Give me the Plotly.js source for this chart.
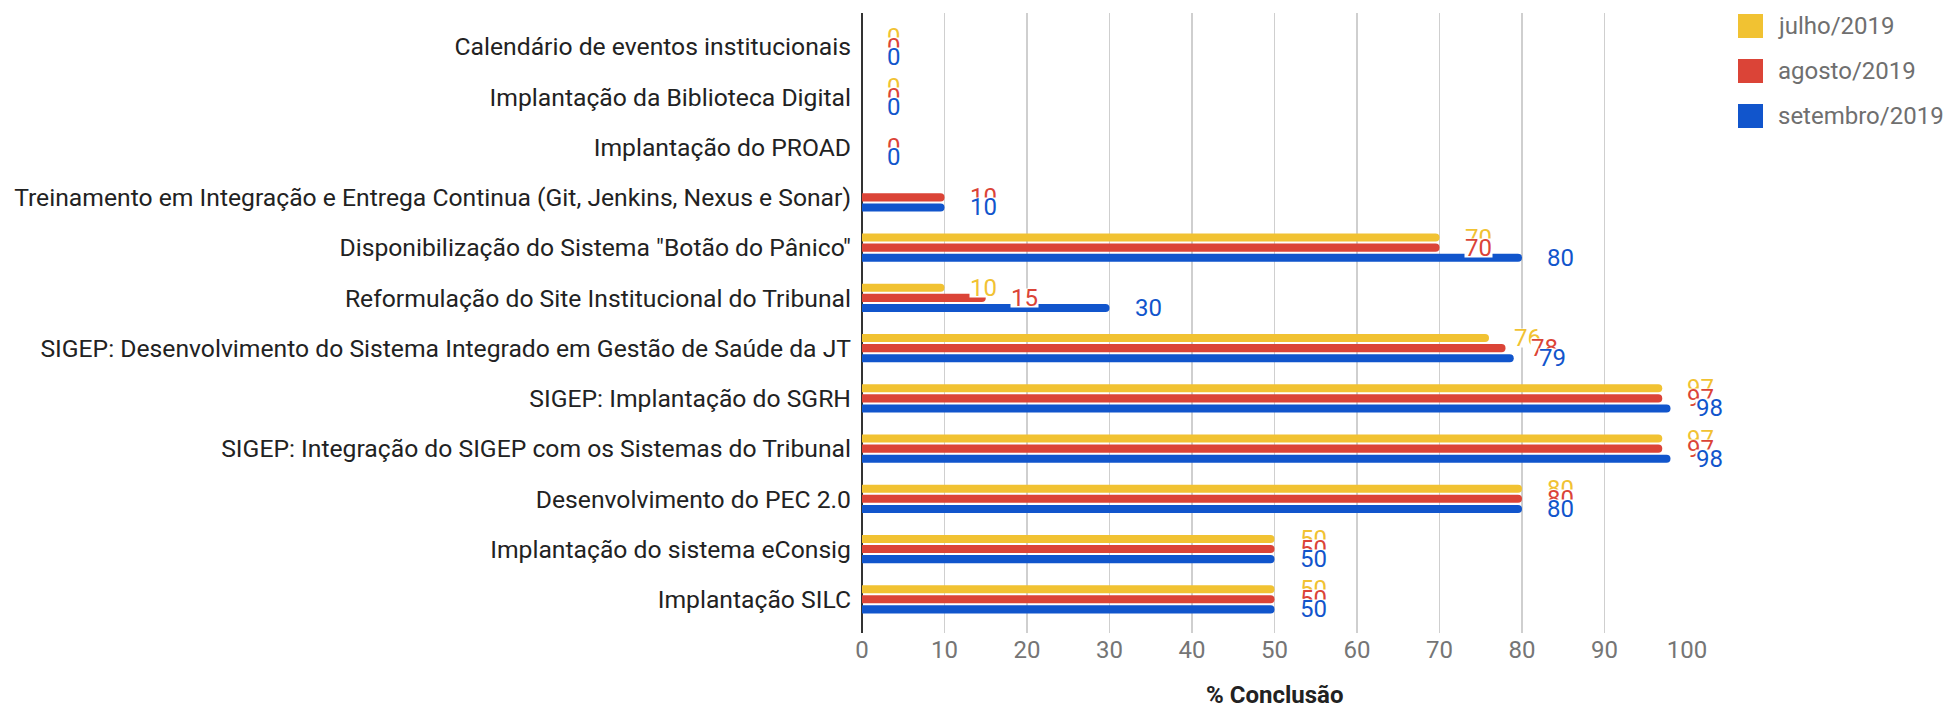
<!DOCTYPE html>
<html>
<head>
<meta charset="utf-8">
<script src="https://cdn.plot.ly/plotly-3.0.1.min.js"></script>
<style>
html,body{margin:0;padding:0;background:#ffffff;}
#chart{width:1952px;height:710px;}
</style>
</head>
<body>
<div id="chart"></div>
<script>
// ---- data ----
const categories = [
  "Calendário de eventos institucionais",
  "Implantação da Biblioteca Digital",
  "Implantação do PROAD",
  "Treinamento em Integração e Entrega Continua (Git, Jenkins, Nexus e Sonar)",
  "Disponibilização do Sistema \"Botão do Pânico\"",
  "Reformulação do Site Institucional do Tribunal",
  "SIGEP: Desenvolvimento do Sistema Integrado em Gestão de Saúde da JT",
  "SIGEP: Implantação do SGRH",
  "SIGEP: Integração do SIGEP com os Sistemas do Tribunal",
  "Desenvolvimento do PEC 2.0",
  "Implantação do sistema eConsig",
  "Implantação SILC"
];
const seriesNames = ["julho/2019", "agosto/2019", "setembro/2019"];
const julho    = [0, 0, null, null, 70, 10, 76, 97, 97, 80, 50, 50];
const agosto   = [0, 0, 0, 10, 70, 15, 78, 97, 97, 80, 50, 50];
const setembro = [0, 0, 0, 10, 80, 30, 79, 98, 98, 80, 50, 50];
const xTickValues = [0, 10, 20, 30, 40, 50, 60, 70, 80, 90, 100];
const xAxisTitle = "% Conclusão";

// ---- styles ----
const colors = ["#F1C232", "#DB4437", "#1155CC"];
const FONT = "Roboto, 'Open Sans', sans-serif";
const seriesValues = [julho, agosto, setembro];

const traces = seriesValues.map((vals, s) => ({
  type: "bar",
  orientation: "h",
  name: seriesNames[s],
  x: vals,
  y: categories,
  marker: { color: colors[s], cornerradius: 4 },
  hoverinfo: "none",
  showlegend: false
}));

// value labels (white box, later series drawn over earlier ones)
const annotations = [];
const slot = 0.2; // group width (1 - bargap) / number of series
seriesValues.forEach((vals, s) => {
  vals.forEach((v, i) => {
    if (v === null || v === undefined) return;
    annotations.push({
      x: v, y: i + (s - 1) * slot, xref: "x", yref: "y",
      text: String(v), showarrow: false,
      xanchor: "left", yanchor: "middle", xshift: 24,
      font: { family: FONT, size: 24, color: colors[s] },
      bgcolor: "#ffffff", borderpad: 0, height: 18
    });
  });
});

// custom legend
const shapes = [];
const legendOffsets = [-13, -58, -103];
seriesNames.forEach((nm, s) => {
  shapes.push({
    type: "rect", xref: "paper", yref: "paper",
    xsizemode: "pixel", ysizemode: "pixel",
    xanchor: 1, yanchor: 1,
    x0: 51, x1: 76, y0: legendOffsets[s] - 12, y1: legendOffsets[s] + 12,
    fillcolor: colors[s], line: { width: 0 }
  });
  annotations.push({
    x: 1, y: 1, xref: "paper", yref: "paper",
    xanchor: "left", yanchor: "middle",
    xshift: 89, yshift: legendOffsets[s],
    text: nm, showarrow: false,
    font: { family: FONT, size: 24, color: "#6f6f6f" }
  });
});

// x-axis title (placed as annotation so it can sit lower than the margin allows)
annotations.push({
  x: 0.5, y: 0, xref: "paper", yref: "paper",
  xanchor: "center", yanchor: "middle", yshift: -62, borderpad: 0,
  text: "<b>" + xAxisTitle + "</b>", showarrow: false,
  font: { family: FONT, size: 24, color: "#222222" }
});

const layout = {
  width: 1952, height: 710,
  margin: { l: 862, r: 265, t: 13, b: 77, pad: 0 },
  paper_bgcolor: "#ffffff", plot_bgcolor: "#ffffff",
  barmode: "group", bargap: 0.4, bargroupgap: 0.2,
  showlegend: false,
  font: { family: FONT },
  xaxis: {
    range: [0, 100], tickvals: xTickValues, ticktext: xTickValues.map(String),
    showgrid: true, gridcolor: "#cfcfcf", gridwidth: 1.5,
    zeroline: true, zerolinecolor: "#333333", zerolinewidth: 2,
    showline: false, ticks: "",
    tickfont: { family: FONT, size: 24, color: "#757575" },
    automargin: false, fixedrange: true
  },
  yaxis: {
    type: "category", categoryorder: "array", categoryarray: categories,
    range: [11.67, -0.67],
    showgrid: false, zeroline: false, showline: false, ticks: "",
    tickfont: { family: FONT, size: 24.7, color: "#222222" },
    ticklabelstandoff: 10,
    automargin: false, fixedrange: true
  },
  shapes: shapes,
  annotations: annotations
};

Plotly.newPlot("chart", traces, layout, { displayModeBar: false, staticPlot: true });
</script>
</body>
</html>
